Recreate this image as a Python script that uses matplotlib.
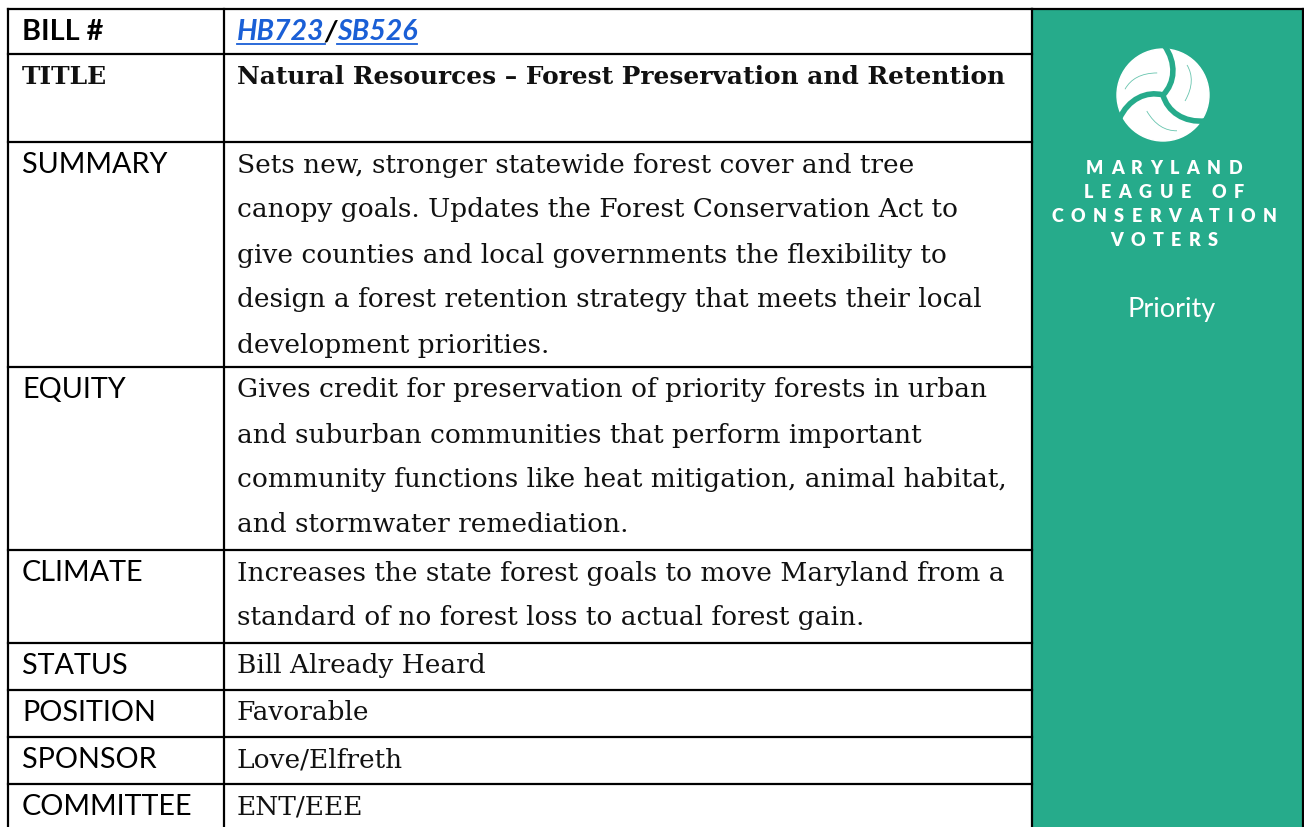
import numpy as np
import matplotlib
matplotlib.use("Agg")
import matplotlib.pyplot as plt
from matplotlib.patches import Rectangle, Circle, PathPatch
from matplotlib.path import Path

# ---- table content ----
labels = ["BILL #", "TITLE", "SUMMARY", "EQUITY", "CLIMATE",
          "STATUS", "POSITION", "SPONSOR", "COMMITTEE"]
values = [
    None,  # bill links drawn separately
    ["Natural Resources – Forest Preservation and Retention"],
    ["Sets new, stronger statewide forest cover and tree",
     "canopy goals. Updates the Forest Conservation Act to",
     "give counties and local governments the flexibility to",
     "design a forest retention strategy that meets their local",
     "development priorities."],
    ["Gives credit for preservation of priority forests in urban",
     "and suburban communities that perform important",
     "community functions like heat mitigation, animal habitat,",
     "and stormwater remediation."],
    ["Increases the state forest goals to move Maryland from a",
     "standard of no forest loss to actual forest gain."],
    ["Bill Already Heard"],
    ["Favorable"],
    ["Love/Elfreth"],
    ["ENT/EEE"],
]
bill_links = ["HB723", "SB526"]
org_lines = ["MARYLAND", "LEAGUE OF", "CONSERVATION", "VOTERS"]
badge = "Priority"

# ---- layout (pixels) ----
W, H = 1304, 827
row_edges = [9, 54, 142, 367, 550, 643, 690, 737, 784, 840]
x_left, x_div, x_right = 8, 224, 1032
line_gap = 45
green = "#26ab8b"
link_blue = "#1a5fd6"
LABEL_FONT = "Lato"
VALUE_FONT = "DejaVu Serif"

fig = plt.figure(figsize=(W / 100, H / 100), dpi=100)
ax = fig.add_axes([0, 0, 1, 1])
ax.set_xlim(0, W)
ax.set_ylim(H, 0)
ax.axis("off")
renderer = fig.canvas.get_renderer()


def width_of(t):
    bb = t.get_window_extent(renderer=renderer)
    return bb.width


# green side panel
ax.add_patch(Rectangle((x_right, row_edges[0]), W - x_right, H, color=green, zorder=1))

# grid lines
lw = 1.6
for y in row_edges[:-1]:
    ax.plot([x_left, x_right], [y, y], color="black", lw=lw, zorder=3)
ax.plot([x_right, W - 1], [row_edges[0], row_edges[0]], color="black", lw=lw, zorder=3)
for x in (x_left, x_div, x_right):
    ax.plot([x, x], [row_edges[0], H], color="black", lw=lw, zorder=3)
ax.plot([W - 1, W - 1], [row_edges[0], H], color="black", lw=lw, zorder=3)

# labels and values
for i, lab in enumerate(labels):
    top = row_edges[i]
    y0 = top + 23
    if i == 1:
        # the TITLE label is set in the bold serif like its value
        ax.text(22, y0, lab, fontsize=18, family=VALUE_FONT, fontweight="bold",
                va="center", ha="left", color="#111111", zorder=4)
    else:
        ax.text(22, y0, lab, fontsize=20.7, family=LABEL_FONT,
                fontweight="bold" if i == 0 else "normal",
                va="center", ha="left", color="black", zorder=4)
    if values[i] is None:
        continue
    for k, line in enumerate(values[i]):
        ax.text(237, y0 + k * line_gap, line,
                fontsize=17.9 if i == 1 else 19, family=VALUE_FONT,
                fontweight="bold" if i == 1 else "normal",
                va="center", ha="left", color="#111111", zorder=4)

# bill links: HB723/SB526 underlined
x = 237
yb = row_edges[0] + 23
parts = [(bill_links[0], link_blue, True), ("/", "black", False),
         (bill_links[1], link_blue, True)]
for txt, col, under in parts:
    t = ax.text(x, yb, txt, fontsize=20.5, family=LABEL_FONT, fontweight="bold",
                style="italic", color=col, va="center", ha="left", zorder=4)
    w = width_of(t)
    if under:
        ax.plot([x, x + w], [yb + 12, yb + 12], color=col, lw=1.3, zorder=4)
    x += w

# logo: white disc cut by three curved gaps (pinwheel of leaves)
cx, cy, r = 1163, 95, 46
ax.add_patch(Circle((cx, cy), r, color="white", zorder=4))
for ang in (0, 120, 240):
    a = np.deg2rad(ang)
    rot = np.array([[np.cos(a), -np.sin(a)], [np.sin(a), np.cos(a)]])
    gap = np.array([[1, -50], [14, -32], [12, -12], [0, 0]]) @ rot.T + [cx, cy]
    p = Path(gap, [Path.MOVETO, Path.CURVE4, Path.CURVE4, Path.CURVE4])
    ax.add_patch(PathPatch(p, fc="none", ec=green, lw=4.0, capstyle="round", zorder=5))
    vein = np.array([[24, -30], [30, -20], [30, -8], [22, 6]]) @ rot.T + [cx, cy]
    pv = Path(vein, [Path.MOVETO, Path.CURVE4, Path.CURVE4, Path.CURVE4])
    ax.add_patch(PathPatch(pv, fc="none", ec=green, lw=0.6, alpha=0.7, zorder=5))

# org name, letter spaced
track = 7.5
space_w = 6
for j, line in enumerate(org_lines):
    yl = 168 + j * 24
    widths = []
    objs = []
    for ch in line:
        if ch == " ":
            widths.append(space_w)
            objs.append(None)
            continue
        t = ax.text(0, yl, ch, fontsize=13, family=LABEL_FONT, fontweight="heavy",
                    color="white", va="center", ha="left", zorder=5)
        widths.append(width_of(t))
        objs.append(t)
    total = sum(widths) + track * (len(line) - 1)
    xs = 1164 - total / 2
    for t, w in zip(objs, widths):
        if t is not None:
            t.set_x(xs)
        xs += w + track

ax.text(1172, 310, badge, fontsize=19.5, family=LABEL_FONT, color="white",
        ha="center", va="center", zorder=5)

fig.savefig("out.png", dpi=100)
